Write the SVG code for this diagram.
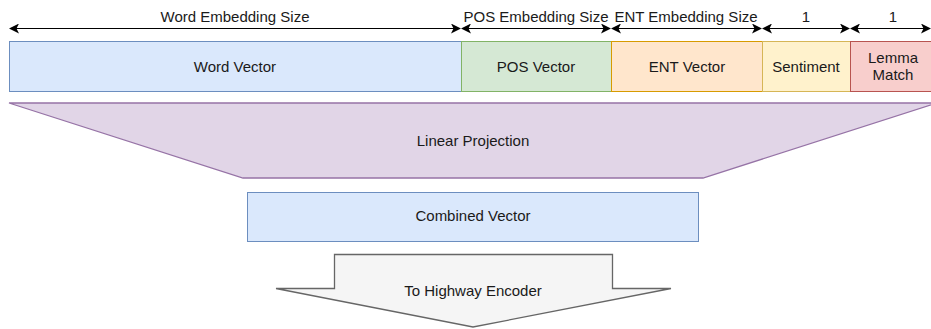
<svg xmlns="http://www.w3.org/2000/svg" width="931" height="329" viewBox="0 0 931 329">
<defs>
<marker id="ah" viewBox="0 0 10 10" refX="9" refY="5" markerWidth="10" markerHeight="10" markerUnits="userSpaceOnUse" orient="auto-start-reverse">
<path d="M0,0 L10,5 L0,10 L2.5,5 Z" fill="#000"/>
</marker>
<style>
text{font-family:"Liberation Sans",Arial,Helvetica,sans-serif;font-size:15px;fill:#1a1a1a;text-anchor:middle}
.dim{stroke:#000;stroke-width:1.2;fill:none;marker-start:url(#ah);marker-end:url(#ah)}
.box{stroke-width:1}
</style>
</defs>
<rect width="931" height="329" fill="#fff"/>
<g id="connectors">
<line class="dim" x1="10" y1="28.5" x2="460" y2="28.5"/>
<line class="dim" x1="462" y1="28.5" x2="610" y2="28.5"/>
<line class="dim" x1="612" y1="28.5" x2="761" y2="28.5"/>
<line class="dim" x1="763" y1="28.5" x2="849" y2="28.5"/>
<line class="dim" x1="851" y1="28.5" x2="930" y2="28.5"/>
</g>
<g id="labels">
<text x="235" y="22">Word Embedding Size</text>
<text x="536" y="22">POS Embedding Size</text>
<text x="686" y="22">ENT Embedding Size</text>
<text x="806" y="22">1</text>
<text x="893" y="22">1</text>
</g>
<g id="word-vector">
<rect class="box" x="9.5" y="41.5" width="452" height="50" fill="#dae8fc" stroke="#6c8ebf"/>
<text x="235" y="72">Word Vector</text>
</g>
<g id="pos-vector">
<rect class="box" x="461.5" y="41.5" width="150" height="50" fill="#d5e8d4" stroke="#82b366"/>
<text x="536" y="72">POS Vector</text>
</g>
<g id="ent-vector">
<rect class="box" x="611.5" y="41.5" width="151" height="50" fill="#ffe6cc" stroke="#d79b00"/>
<text x="687" y="72">ENT Vector</text>
</g>
<g id="sentiment">
<rect class="box" x="762.5" y="41.5" width="88" height="50" fill="#fff2cc" stroke="#d6b656"/>
<text x="806" y="72">Sentiment</text>
</g>
<g id="lemma-match">
<rect class="box" x="850.5" y="41.5" width="87" height="50" fill="#f8cecc" stroke="#b85450"/>
<text x="893" y="63">Lemma</text>
<text x="893" y="80">Match</text>
</g>
<g id="linear-projection">
<polygon points="9,103 937,103 703,178 243,178" fill="#e1d5e7" stroke="#9673a6" stroke-width="1.3"/>
<text x="473" y="146">Linear Projection</text>
</g>
<g id="combined-vector">
<rect class="box" x="247.5" y="192.5" width="451" height="49" fill="#dae8fc" stroke="#6c8ebf"/>
<text x="473" y="221">Combined Vector</text>
</g>
<g id="to-highway-encoder">
<polygon points="334.5,254.5 612.5,254.5 612.5,288.5 671,288.5 473,327 276,288.5 334.5,288.5" fill="#f5f5f5" stroke="#666666" stroke-width="1.3"/>
<text x="473" y="296">To Highway Encoder</text>
</g>
</svg>
